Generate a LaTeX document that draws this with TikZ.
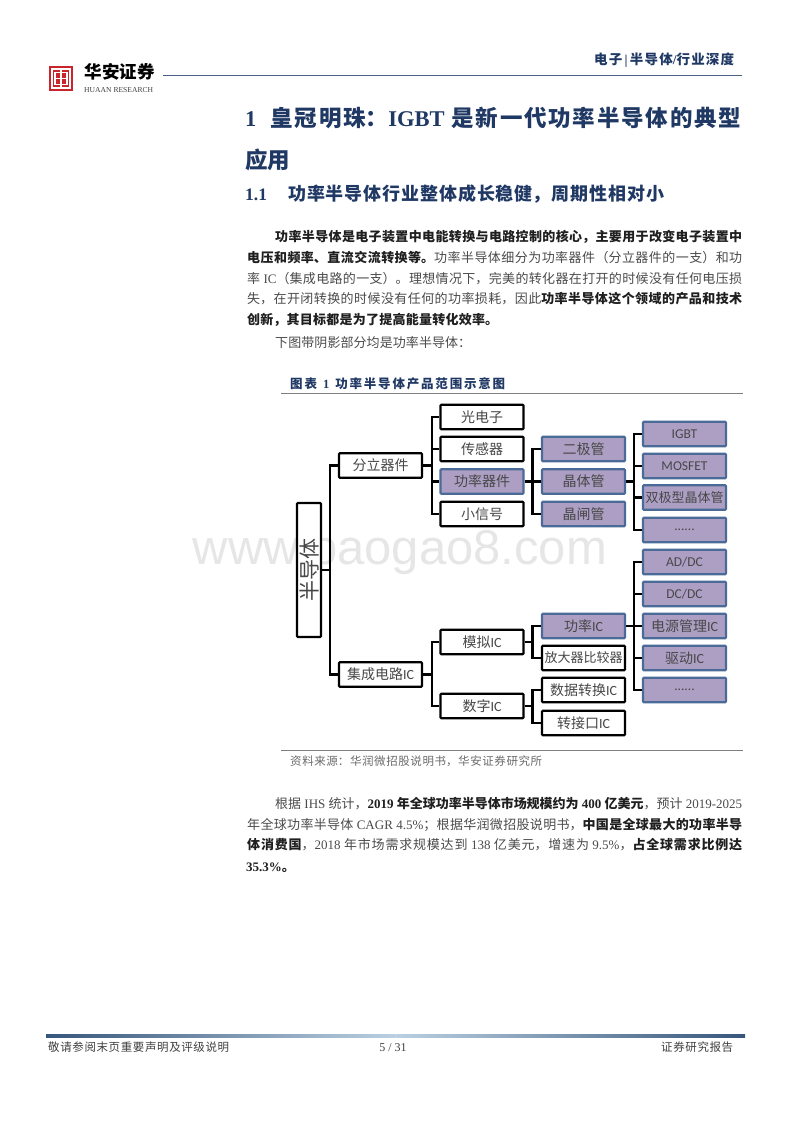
\documentclass[tikz,border=0pt]{standalone}
\usepackage{fontspec}
\usetikzlibrary{calc}
\setmainfont{Liberation Serif}
\newfontfamily\zh{Noto Sans CJK SC}
\newfontfamily\calb{Carlito}
\newfontfamily\wmk{Liberation Sans}
\XeTeXlinebreaklocale "zh"
\XeTeXlinebreakskip=0pt plus 6pt minus 1pt
\newcommand{\fs}[1]{\fontsize{#1}{#1}\selectfont}
\newcommand{\Z}[1]{{\zh #1}}
\newcommand{\B}[1]{{\zh\bfseries #1}}
\newcommand{\K}[1]{{\color{black!88}\zh\bfseries #1}}
\newcommand{\Lb}[1]{{\bfseries #1}}
\newcommand{\Kb}[1]{{\color{black!88}\bfseries #1}}
\newcommand{\jb}[2]{\parbox[b]{#1pt}{\tolerance=10000\hbadness=10000\hfuzz=3pt\parindent=0pt\parfillskip=0pt\relax #2}}
\definecolor{navy}{HTML}{1F3864}
\definecolor{bodyc}{HTML}{4A4A4A}
\definecolor{capc}{HTML}{6A6A6A}
\definecolor{pfill}{HTML}{AD9FC4}
\definecolor{pline}{HTML}{4A6A97}
\definecolor{barEnd}{HTML}{36567B}
\definecolor{barMid}{HTML}{BCD0E2}
\definecolor{ruleg}{HTML}{808080}
\definecolor{markc}{HTML}{E6E6E6}
\definecolor{logor}{HTML}{C9252B}
\newcommand{\txt}[5]{\node[anchor=base west,inner sep=0pt,text=bodyc] (#1) at (#2,#3) {\fs{13}\jb{#4}{#5}};}
\tikzset{
  plainbox/.style={draw=black,fill=white,line width=2.1pt,rounded corners=0.8pt,
    minimum width=83pt,minimum height=24.5pt,inner sep=0pt,text=black!72,
    font=\fs{14}\zh},
  shadebox/.style={plainbox,draw=pline,fill=pfill},
  conn/.style={draw=black,line width=2.2pt,line join=miter},
  hrule/.style={draw=ruleg,line width=0.9pt}
}
\newcommand{\IC}{{\calb IC}}
\begin{document}
\begin{tikzpicture}[x=1pt,y=-1pt]
\useasboundingbox (0,0) rectangle (800,1132);
% watermark
\node[anchor=center,inner sep=0pt,text=markc] (mark) at (400,552) {\wmk\fs{49}www.baogao8.com};
% header
\node[anchor=base west,inner sep=0pt,text=navy] (hdr) at (594,65) {\fs{13.5}\jb{140}{\B{电子}\,\Lb{|}\,\B{半导体}\Lb{/}\B{行业深度}}};
\coordinate (hl) at (163,75.5); \coordinate (hr) at (742,75.5);
\draw[draw=navy!80,line width=0.9pt] (hl) -- (hr);
% logo
\fill[logor] (49,66) rectangle (73,91);
\draw[white,line width=1.1pt] (52,69) rectangle (70,88);
\draw[white,line width=1.1pt] (55,72.5) rectangle (67,84.5);
\draw[white,line width=1.1pt] (61,69) -- (61,88) (55,78.5) -- (67,78.5);
\node[anchor=west,inner sep=0pt,text=black] (logoa) at (84,72) {\fs{17.5}\jb{71}{\B{华安证券}}};
\node[anchor=west,inner sep=0pt,text=black!75] (logob) at (84,90) {\fs{7.6}HUAAN RESEARCH};
% titles
\node[anchor=base west,inner sep=0pt,text=navy] (t1) at (245,126) {\fs{22.5}\jb{496}{\Lb{1}\hspace{14pt}\B{皇冠明珠：}\Lb{IGBT}\hspace{7pt}\B{是新一代功率半导体的典型}}};
\node[anchor=base west,inner sep=0pt,text=navy] (t2) at (245,168) {\fs{22.5}\B{应用}};
\node[anchor=base west,inner sep=0pt,text=navy] (t3) at (245,200) {\fs{17.5}\Lb{1.1}};
\node[anchor=base west,inner sep=0pt,text=navy] (t4) at (288,200) {\fs{18}\jb{376}{\B{功率半导体行业整体成长稳健，周期性相对小}}};
% paragraph 1
\txt{p1}{275}{241}{467}{\K{功率半导体是电子装置中电能转换与电路控制的核心，主要用于改变电子装置中}}
\txt{p2}{247}{262}{495}{\K{电压和频率、直流交流转换等。}\Z{功率半导体细分为功率器件（分立器件的一支）和功}}
\txt{p3}{247}{283}{495}{\Z{率} IC\Z{（集成电路的一支）。理想情况下，完美的转化器在打开的时候没有任何电压损}}
\txt{p4}{247}{303}{495}{\Z{失，在开闭转换的时候没有任何的功率损耗，因此}\K{功率半导体这个领域的产品和技术}}
\txt{p5}{247}{324}{251}{\K{创新，其目标都是为了提高能量转化效率。}}
\txt{p6}{275}{347}{196}{\Z{下图带阴影部分均是功率半导体：}}
% caption
\node[anchor=base west,inner sep=0pt,text=navy] (cap) at (290,388) {\fs{12.5}\jb{215}{\B{图表}\hspace{6pt}\Lb{1}\hspace{6pt}\B{功率半导体产品范围示意图}}};
\coordinate (r1a) at (281,393.5); \coordinate (r1b) at (743,393.5);
\draw[hrule] (r1a) -- (r1b);
% boxes
\node[plainbox,minimum width=24pt,minimum height=134pt,font=\fs{21}\zh] (semi) at (309,570) {\rotatebox{90}{半导体}};
\node[plainbox] (fenli) at (380.5,465.5) {分立器件};
\node[plainbox] (jicheng) at (380.5,674.5) {集成电路\IC};
\node[plainbox] (guang) at (482,417) {光电子};
\node[plainbox] (chuan) at (482,449) {传感器};
\node[shadebox] (gonglv) at (482,481.5) {功率器件};
\node[plainbox] (xiao) at (482,514) {小信号};
\node[plainbox] (moni) at (482,642) {模拟\IC};
\node[plainbox] (shuzi) at (482,706) {数字\IC};
\node[shadebox] (erji) at (583.5,449) {二极管};
\node[shadebox] (jingti) at (583.5,481.5) {晶体管};
\node[shadebox] (jingza) at (583.5,514) {晶闸管};
\node[shadebox] (glic) at (583.5,626) {功率\IC};
\node[plainbox,font=\fs{13}\zh] (fangda) at (583.5,658) {放大器比较器};
\node[plainbox] (shuju) at (583.5,690) {数据转换\IC};
\node[plainbox] (zhuan) at (583.5,723) {转接口\IC};
\node[shadebox,font=\fs{13.5}\calb] (igbt) at (684.5,434) {IGBT};
\node[shadebox,font=\fs{13.5}\calb] (mos) at (684.5,466) {MOSFET};
\node[shadebox,font=\fs{13}\zh] (shuang) at (684.5,497.5) {双极型晶体管};
\node[shadebox,font=\fs{13.5}\calb] (d1) at (684.5,530) {......};
\node[shadebox,font=\fs{13.5}\calb] (addc) at (684.5,562) {AD/DC};
\node[shadebox,font=\fs{13.5}\calb] (dcdc) at (684.5,594) {DC/DC};
\node[shadebox] (dianyuan) at (684.5,626) {电源管理\IC};
\node[shadebox] (qudong) at (684.5,658) {驱动\IC};
\node[shadebox,font=\fs{13.5}\calb] (d2) at (684.5,690) {......};
% connectors
\foreach \c in {fenli,jicheng} \draw[conn] (semi.east) -- ++(8,0) |- (\c.west);
\foreach \c in {guang,chuan,gonglv,xiao} \draw[conn] (fenli.east) -- ++(9,0) |- (\c.west);
\foreach \c in {erji,jingti,jingza} \draw[conn] (gonglv.east) -- ++(8,0) |- (\c.west);
\foreach \c in {igbt,mos,shuang,d1} \draw[conn] (jingti.east) -- ++(8,0) |- (\c.west);
\foreach \c in {moni,shuzi} \draw[conn] (jicheng.east) -- ++(9,0) |- (\c.west);
\foreach \c in {glic,fangda} \draw[conn] (moni.east) -- ++(8,0) |- (\c.west);
\foreach \c in {shuju,zhuan} \draw[conn] (shuzi.east) -- ++(8,0) |- (\c.west);
\foreach \c in {addc,dcdc,dianyuan,qudong,d2} \draw[conn] (glic.east) -- ++(8,0) |- (\c.west);
% source
\coordinate (r2a) at (281,750.5); \coordinate (r2b) at (743,750.5);
\draw[hrule] (r2a) -- (r2b);
\node[anchor=base west,inner sep=0pt,text=capc] (src) at (290,765.5) {\fs{11.5}\jb{252}{\Z{资料来源：华润微招股说明书，华安证券研究所}}};
% paragraph 2
\txt{q1}{275}{808}{467}{\Z{根据} IHS \Z{统计，}\Kb{2019} \K{年全球功率半导体市场规模约为} \Kb{400} \K{亿美元}\Z{，预计} 2019-2025}
\txt{q2}{247}{829}{495}{\Z{年全球功率半导体} CAGR 4.5\%\Z{；根据华润微招股说明书，}\K{中国是全球最大的功率半导}}
\txt{q3}{247}{849}{495}{\K{体消费国}\Z{，}2018 \Z{年市场需求规模达到} 138 \Z{亿美元，增速为} 9.5\%\Z{，}\K{占全球需求比例达}}
\txt{q4}{246}{871}{42}{\Kb{35.3\%}\K{。}}
% footer
\shade[left color=barEnd,right color=barMid,draw=none] (46,1034) rectangle (395.5,1037.5);
\shade[left color=barMid,right color=barEnd,draw=none] (395.5,1034) rectangle (745,1037.5);
\node[anchor=base west,inner sep=0pt,text=black!75] (f1) at (48,1051) {\fs{11.5}\jb{181}{\Z{敬请参阅末页重要声明及评级说明}}};
\node[anchor=base,inner sep=0pt,text=black!75] (f2) at (393,1051) {\fs{12}5 / 31};
\node[anchor=base west,inner sep=0pt,text=black!75] (f3) at (661,1051) {\fs{11.5}\jb{72}{\Z{证券研究报告}}};
\end{tikzpicture}
\end{document}
